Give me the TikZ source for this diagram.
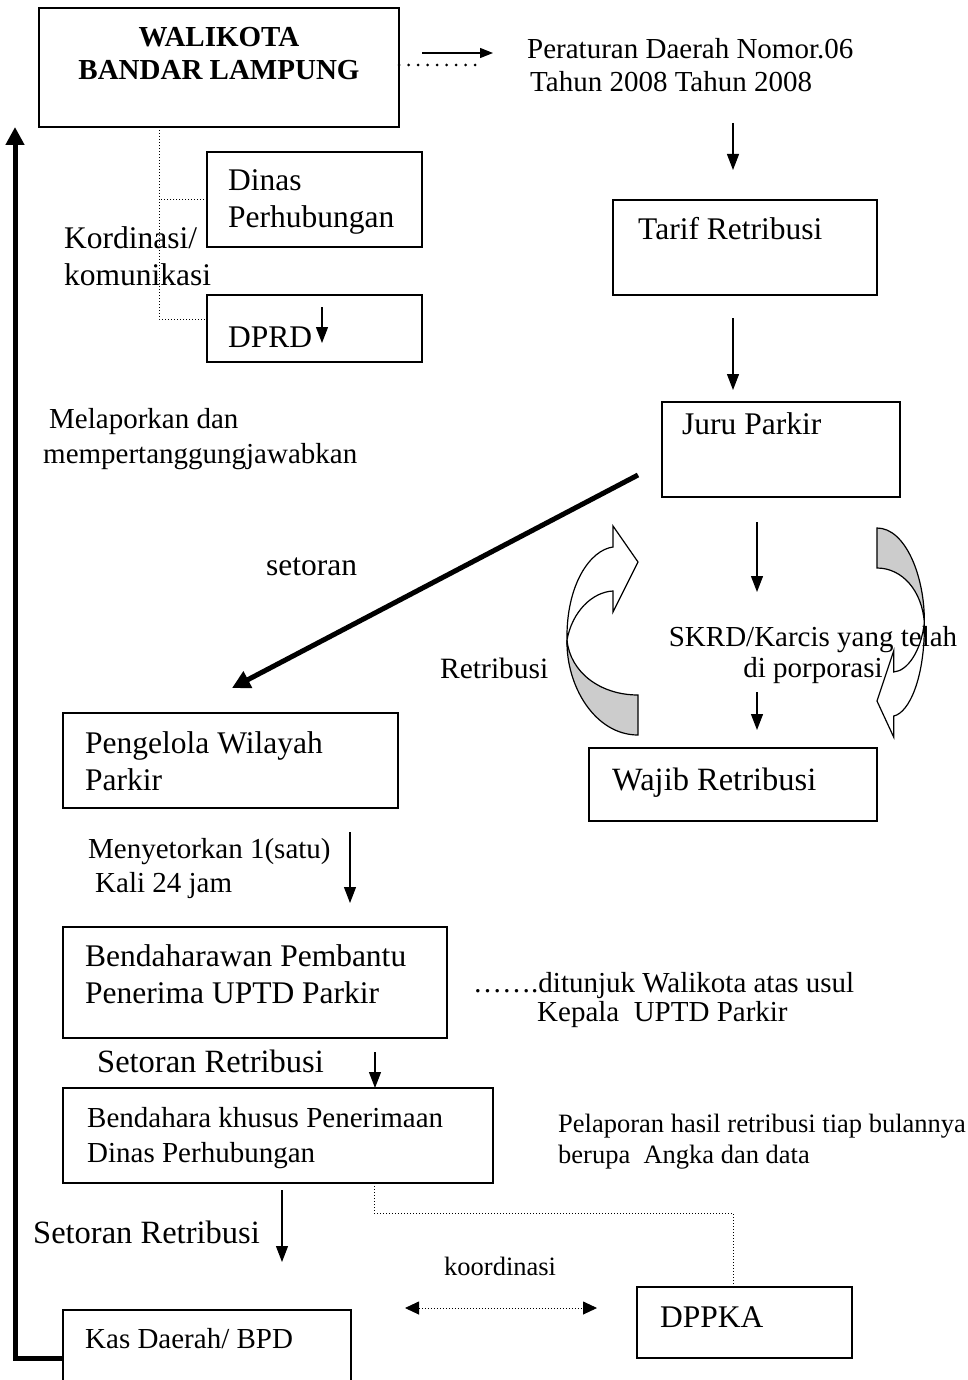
\documentclass[tikz,border=0pt]{standalone}
\usepackage{fontspec}
\setmainfont{Liberation Serif}
\usetikzlibrary{arrows.meta}
\newcommand{\uk}[2]{\fontsize{#1}{#2}\selectfont}
\newcommand{\panahlengkung}{%
  \filldraw[fill=gray!40, line width=1.2] (72,169) .. controls (34,169) and (4,146) .. (1,114)
    .. controls (0,160) and (29,209) .. (72,209) -- cycle;
  \filldraw[fill=white, line width=1.2] (1,114) .. controls (0,59) and (24,24) .. (47,21) -- (47,0) -- (72,36)
    -- (47,86) -- (47,65) .. controls (26,66) and (6,86) .. (1,114) -- cycle;
}
\tikzset{
  kotak/.style 2 args={draw, line width=1.6, inner sep=0, outer sep=0, anchor=north west,
    minimum width=#1, minimum height=#2},
  teks/.style={inner sep=0, anchor=base west, align=left},
  panah/.style={line width=1.2, -{Triangle[length=16pt,width=12pt]}},
  tebal/.style={line width=5, -{Triangle[length=18pt,width=18pt]}},
  titik/.style={line width=0.9, dash pattern=on 1pt off 2pt},
  titikbesar/.style={line width=3, line cap=round, dash pattern=on 0pt off 9.5pt}
}
\begin{document}
\begin{tikzpicture}[x=1pt, y=-1pt]
  \clip (0,0) rectangle (968,1380);
  \node[kotak={360}{119}] (wal) at (39,8) {};
  \node[kotak={215}{95}] (dinas) at (207,152) {};
  \node[kotak={215}{67}] (dprd) at (207,295) {};
  \node[kotak={264}{95}] (tarif) at (613,200) {};
  \node[kotak={238}{95}] (juru) at (662,402) {};
  \node[kotak={288}{73}] (wajib) at (589,748) {};
  \node[kotak={335}{95}] (pengelola) at (63,713) {};
  \node[kotak={384}{111}] (bpp) at (63,927) {};
  \node[kotak={430}{95}] (bkh) at (63,1088) {};
  \node[kotak={215}{71}] (dppka) at (637,1287) {};
  \node[kotak={288}{100}] (kas) at (63,1310) {};

  \coordinate (cab) at (159,319);
  \coordinate (t1) at (483,65);
  \coordinate (d1) at (374,1213);
  \coordinate (d2) at (733,1213);
  \coordinate (k1) at (405,1308);
  \coordinate (k2) at (597,1308);
  \coordinate (kiri) at (15,1358);
  \coordinate (g1) at (638,475);
  \coordinate (g2) at (232,688);
  \coordinate (a1) at (422,53);   \coordinate (a2) at (493,53);
  \coordinate (a3) at (733,123);  \coordinate (a4) at (733,170);
  \coordinate (a5) at (733,318);  \coordinate (a6) at (733,390);
  \coordinate (a7) at (757,522);  \coordinate (a8) at (757,592);
  \coordinate (a9) at (757,692);  \coordinate (a10) at (757,730);
  \coordinate (a11) at (350,832); \coordinate (a12) at (350,903);
  \coordinate (a13) at (375,1052);
  \coordinate (a14) at (282,1190); \coordinate (a15) at (282,1262);
  \coordinate (a16) at (322,307); \coordinate (a17) at (322,343);

  \draw[titik] (wal.south -| cab) -- (cab) -- (dprd.west |- cab);
  \draw[titik] (dinas.west) -- (dinas.west -| cab);
  \draw[titik] (bkh.south -| d1) -- (d1) -- (d2) -- (dppka.north -| d2);
  \draw[titik, {Triangle[length=14pt,width=13pt]}-{Triangle[length=14pt,width=13pt]}] (k1) -- (k2);
  \draw[titikbesar] (wal.east |- t1) -- (t1);
  \draw[line width=1.2, -{Triangle[length=13pt,width=10pt]}] (a1) -- (a2);
  \draw[panah] (a3) -- (a4);
  \draw[panah] (a5) -- (a6);
  \draw[panah] (a7) -- (a8);
  \draw[panah] (a9) -- (a10);
  \draw[panah] (a11) -- (a12);
  \draw[panah] (a13) -- (bkh.north -| a13);
  \draw[panah] (a14) -- (a15);
  \draw[panah] (a16) -- (a17);
  \draw[tebal] (g1) -- (g2);
  \draw[tebal] (kas.north west |- kiri) -- (kiri) -- (kiri |- wal.south);

  \begin{scope}[shift={(566,526)}]
    \panahlengkung
  \end{scope}
  \begin{scope}[shift={(925,737)}, xscale=-0.667, yscale=-1]
    \panahlengkung
  \end{scope}

  \node[teks, anchor=base, align=center, font={\uk{29}{33}\bfseries}] (walt) at (219,80) {WALIKOTA\\BANDAR LAMPUNG};
  \node[teks, font={\uk{29}{33}}] (perda) at (527,92) {Peraturan Daerah Nomor.06\\\hspace*{3pt}Tahun 2008 Tahun 2008};
  \node[teks, font={\uk{31.5}{37}}] (dinast) at (228,228) {Dinas\\Perhubungan};
  \node[teks, font={\uk{31.5}{37}}] (kord) at (64,285) {Kordinasi/\\komunikasi};
  \node[teks, font={\uk{31.5}{37}}] (dprdt) at (228,347) {DPRD};
  \node[teks, font={\uk{31.5}{37}}] (tarift) at (638,240) {Tarif Retribusi};
  \node[teks, font={\uk{31.5}{37}}] (jurut) at (682,434) {Juru Parkir};
  \node[teks, font={\uk{29}{35}}] (lapor) at (43,463) {\hspace*{6pt}Melaporkan dan\\mempertanggungjawabkan};
  \node[teks, font={\uk{31.5}{37}}] (setor) at (266,575) {setoran};
  \node[teks, font={\uk{29.5}{37}}] (retr) at (440,678) {Retribusi};
  \node[teks, anchor=base, align=center, font={\uk{29}{31}}] (skrd) at (813,677) {SKRD/Karcis yang telah\\di porporasi};
  \node[teks, font={\uk{32.5}{37}}] (wajibt) at (612,790) {Wajib Retribusi};
  \node[teks, font={\uk{31.5}{37}}] (pengt) at (85,790) {Pengelola Wilayah\\Parkir};
  \node[teks, font={\uk{29}{34}}] (menyet) at (88,892) {Menyetorkan 1(satu)\\\hspace*{7pt}Kali 24 jam};
  \node[teks, font={\uk{31.5}{37}}] (bppt) at (85,1003) {Bendaharawan Pembantu\\Penerima UPTD Parkir};
  \node[teks, font={\uk{29}{29}}] (tunjuk) at (473,1021) {…….ditunjuk Walikota atas usul\\\hspace*{64pt}Kepala~~UPTD Parkir};
  \node[teks, font={\uk{32.5}{37}}] (setret1) at (97,1072) {Setoran Retribusi};
  \node[teks, font={\uk{29}{35}}] (bkht) at (87,1162) {Bendahara khusus Penerimaan\\Dinas Perhubungan};
  \node[teks, font={\uk{26.5}{31}}] (lapbul) at (558,1163) {Pelaporan hasil retribusi tiap bulannya\\berupa~~Angka dan data};
  \node[teks, font={\uk{32.5}{37}}] (setret2) at (33,1243) {Setoran Retribusi};
  \node[teks, font={\uk{26.5}{31}}] (koord) at (444,1275) {koordinasi};
  \node[teks, font={\uk{31.5}{37}}] (dppkat) at (660,1327) {DPPKA};
  \node[teks, font={\uk{29}{34}}] (kast) at (85,1348) {Kas Daerah/ BPD};
\end{tikzpicture}
\end{document}
